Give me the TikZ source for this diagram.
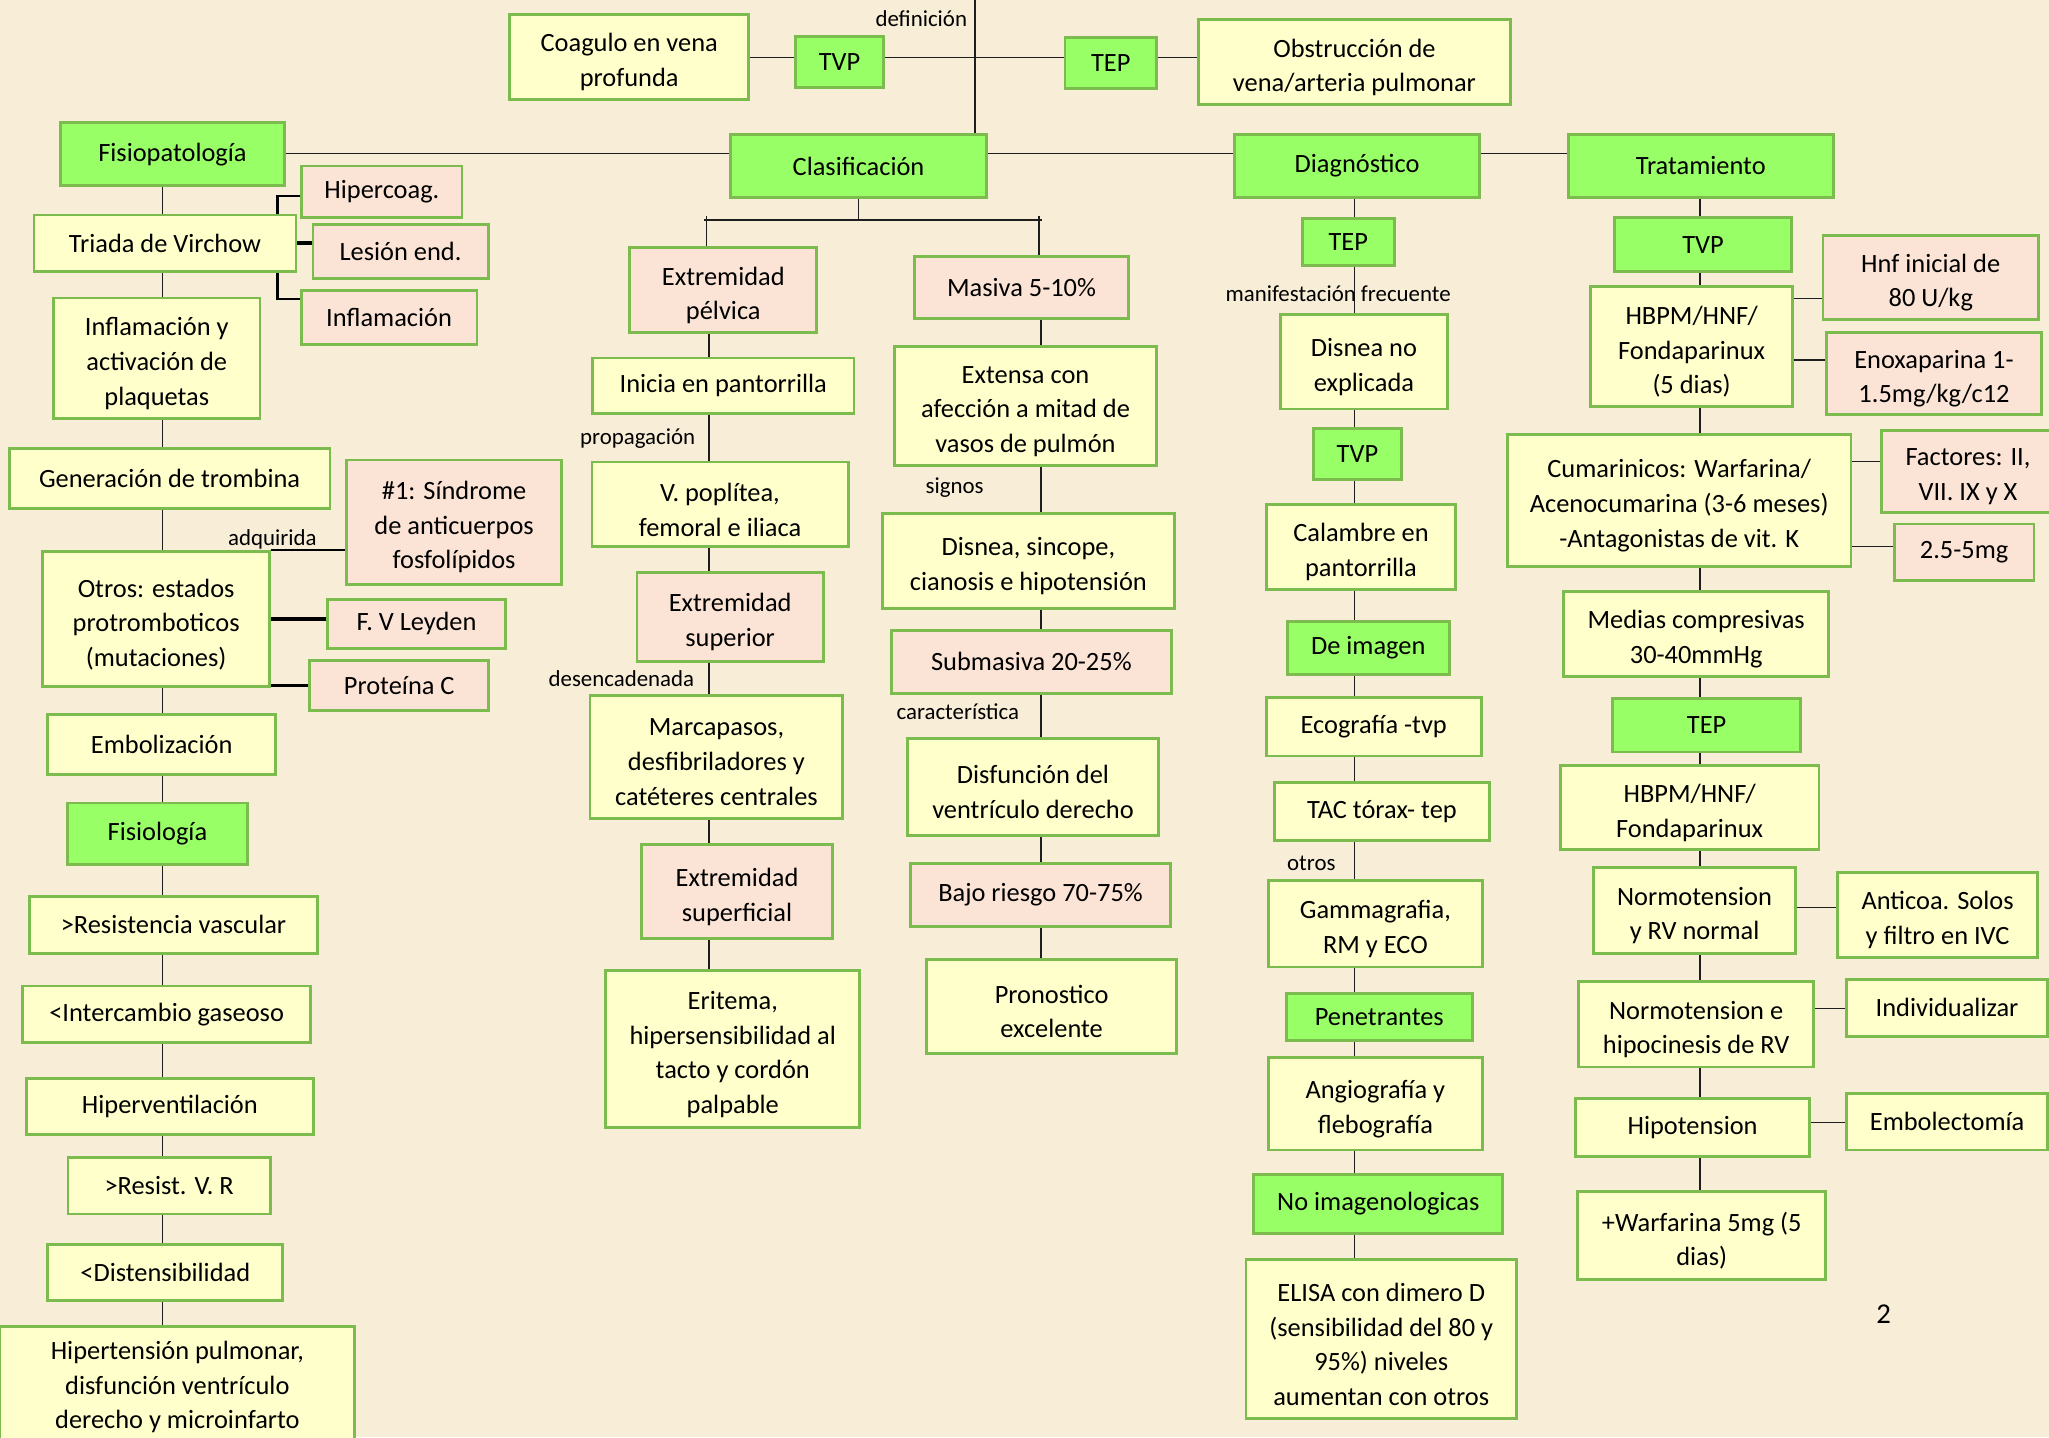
\documentclass[tikz,border=0pt]{standalone}
\usepackage{fontspec}
\setmainfont{Carlito}
\usetikzlibrary{calc}
\pgfdeclarelayer{bg}
\pgfsetlayers{bg,main}
\definecolor{gfill}{HTML}{99FF66}
\definecolor{yfill}{HTML}{FFFFCC}
\definecolor{pfill}{HTML}{FBE4D5}
\definecolor{bord}{HTML}{7CBB4E}
\definecolor{paper}{HTML}{F8EDD6}
\definecolor{ink}{HTML}{1E1E1E}
\tikzset{
 box/.style={draw=bord, line width=2.2pt, inner sep=0pt},
 gbox/.style={box, fill=gfill},
 ybox/.style={box, fill=yfill},
 pbox/.style={box, fill=pfill},
 btext/.style={inner sep=0pt, align=center, font=\fontsize{20.2}{26.5}\selectfont, text=black},
 conn/.style={draw=ink, line width=1pt},
 thk/.style={draw=black, line width=2.2pt},
 lbl/.style={font=\fontsize{17.5}{20}\selectfont, inner sep=0pt, text=black},
}
% single-line box
\newcommand\mybox[7]{%
 \pgfmathsetmacro\mycx{(#3+#5)/2}\pgfmathsetmacro\mycy{(#4+#6)/2}%
 \pgfmathsetmacro\myww{#5-#3}\pgfmathsetmacro\myhh{#6-#4}%
 \node[#2, minimum width=\myww pt, minimum height=\myhh pt] (#1) at (\mycx,\mycy) {};
 \node[btext] (#1t) at (\mycx,\mycy) {#7};}
% multi-line box (text sits a little lower)
\newcommand\myboxm[7]{%
 \pgfmathsetmacro\mycx{(#3+#5)/2}\pgfmathsetmacro\mycy{(#4+#6)/2}%
 \pgfmathsetmacro\myww{#5-#3}\pgfmathsetmacro\myhh{#6-#4}%
 \pgfmathsetmacro\myty{\mycy+4}%
 \node[#2, minimum width=\myww pt, minimum height=\myhh pt] (#1) at (\mycx,\mycy) {};
 \node[btext] (#1t) at (\mycx,\myty) {#7};}
\begin{document}
\begin{tikzpicture}[x=1pt,y=-1pt]
\useasboundingbox (0,0) rectangle (1568,1100);
\begin{pgfonlayer}{bg}
\fill[paper] (0,0) rectangle (1568,1100);
\end{pgfonlayer}
% top
\myboxm{Coag}{ybox}{390}{11}{573}{76}{Coagulo en vena\\profunda}
\mybox{TVPa}{gbox}{609}{28}{676}{67}{TVP}
\mybox{TEPa}{gbox}{815}{29}{885}{68}{TEP}
\myboxm{Obs}{ybox}{917}{15}{1156}{80}{Obstrucción de\\vena/arteria pulmonar}
\mybox{Fisio}{gbox}{46}{94}{218}{142}{Fisiopatología}
\mybox{Clas}{gbox}{559}{103}{755}{151}{Clasificación}
\mybox{Diag}{gbox}{945}{103}{1132}{151}{Diagnóstico}
\mybox{Trat}{gbox}{1200}{103}{1403}{151}{Tratamiento}
% left column
\mybox{Triada}{ybox}{26}{164.5}{226.5}{207.5}{Triada de Virchow}
\mybox{Hiper}{pbox}{231}{127}{353.5}{166.5}{Hipercoag.}
\mybox{Lesion}{pbox}{239.5}{172}{373.5}{213}{Lesión end.}
\mybox{InflB}{pbox}{230.5}{222.5}{365}{263.5}{Inflamación}
\myboxm{InflA}{ybox}{41}{228}{199}{320.5}{Inflamación y\\activación de\\plaquetas}
\mybox{Gen}{ybox}{7}{343}{252.5}{389}{Generación de trombina}
\myboxm{Sind}{pbox}{265}{352}{430}{447}{\#1: Síndrome\\de anticuerpos\\fosfolípidos}
\myboxm{Otros}{ybox}{32.5}{422}{206.5}{525.5}{Otros: estados\\protromboticos\\(mutaciones)}
\mybox{Leyden}{pbox}{250.5}{458.5}{387}{496}{F. V Leyden}
\mybox{Prot}{pbox}{237}{505.5}{374}{544}{Proteína C}
\mybox{Embo}{ybox}{36.5}{546.5}{211}{592.5}{Embolización}
\mybox{Fisiol}{gbox}{51.5}{614.5}{189.5}{661.5}{Fisiología}
\mybox{Resist}{ybox}{22.5}{686}{243}{729.5}{>Resistencia vascular}
\mybox{Interc}{ybox}{17.5}{754.5}{237.5}{798}{<Intercambio gaseoso}
\mybox{Hiperv}{ybox}{20}{825}{240}{868}{Hiperventilación}
\mybox{ResVR}{ybox}{52}{886}{207}{929}{>Resist. V. R}
\mybox{Disten}{ybox}{36.5}{952.5}{216.5}{995.5}{<Distensibilidad}
\mybox{Hipert}{ybox}{0}{1015}{271.5}{1108}{Hipertensión pulmonar,\\disfunción ventrículo\\derecho y microinfarto}
% clasificacion
\myboxm{EP}{pbox}{482}{189.5}{625}{254.5}{Extremidad\\pélvica}
\mybox{Inicia}{ybox}{453.5}{274}{653.5}{316.5}{Inicia en pantorrilla}
\myboxm{Vpop}{ybox}{453}{353.5}{649}{418.5}{V. poplítea,\\femoral e iliaca}
\myboxm{ExtSup}{pbox}{487.5}{438}{630}{506}{Extremidad\\superior}
\myboxm{Marca}{ybox}{451.5}{532}{645}{626.5}{Marcapasos,\\desfibriladores y\\catéteres centrales}
\myboxm{ExtSupf}{pbox}{491}{646.5}{637}{718}{Extremidad\\superficial}
\myboxm{Eritema}{ybox}{463.5}{743}{658}{863}{Eritema,\\hipersensibilidad al\\tacto y cordón\\palpable}
\mybox{Masiva}{pbox}{700}{196}{863.5}{244}{Masiva 5-10\%}
\myboxm{Extensa}{ybox}{684.5}{265}{885}{356.5}{Extensa con\\afección a mitad de\\vasos de pulmón}
\myboxm{DisneaS}{ybox}{675}{393}{899}{465.5}{Disnea, sincope,\\cianosis e hipotensión}
\mybox{Submas}{pbox}{682}{482.5}{896.5}{530.5}{Submasiva 20-25\%}
\myboxm{Disfun}{ybox}{694.5}{565}{886.5}{639.5}{Disfunción del\\ventrículo derecho}
\mybox{Bajo}{pbox}{697}{661}{895.5}{709}{Bajo riesgo 70-75\%}
\myboxm{Pron}{ybox}{709}{734}{900.5}{806}{Pronostico\\excelente}
% diagnostico
\mybox{TEPd}{gbox}{996.5}{167.5}{1067}{203.5}{TEP}
\myboxm{DisneaN}{ybox}{980}{241}{1107.5}{313}{Disnea no\\explicada}
\mybox{TVPd}{gbox}{1005}{328}{1072.5}{367}{TVP}
\myboxm{Calam}{ybox}{969}{386}{1114}{451}{Calambre en\\pantorrilla}
\mybox{DeImg}{gbox}{985}{475.5}{1109}{516}{De imagen}
\mybox{Eco}{ybox}{969}{534}{1133.5}{578.5}{Ecografía -tvp}
\mybox{TAC}{ybox}{975.5}{599}{1139.5}{643}{TAC tórax- tep}
\myboxm{Gamma}{ybox}{970.5}{674}{1134.5}{740}{Gammagrafia,\\RM y ECO}
\mybox{Penet}{gbox}{984.5}{760}{1126.5}{796}{Penetrantes}
\myboxm{Angio}{ybox}{970.5}{809.5}{1134.5}{880}{Angiografía y\\flebografía}
\mybox{NoImg}{gbox}{959.5}{898.5}{1150}{944}{No imagenologicas}
\myboxm{Elisa}{ybox}{953.5}{964}{1160.5}{1085.5}{ELISA con dimero D\\(sensibilidad del 80 y\\95\%) niveles\\aumentan con otros}
% tratamiento
\mybox{TVPt}{gbox}{1235.5}{166.5}{1371}{208}{TVP}
\myboxm{HBPM}{ybox}{1217}{219.5}{1372}{311}{HBPM/HNF/\\Fondaparinux\\(5 dias)}
\myboxm{Hnf}{pbox}{1395}{180}{1560}{244.5}{Hnf inicial de\\80 U/kg}
\myboxm{Enox}{pbox}{1397.5}{254.5}{1562.5}{317}{Enoxaparina 1-\\1.5mg/kg/c12}
\myboxm{Cumar}{ybox}{1153.5}{332.5}{1416.5}{433.5}{Cumarinicos: Warfarina/\\Acenocumarina (3-6 meses)\\-Antagonistas de vit. K}
\myboxm{Fact}{pbox}{1440}{329.5}{1572}{392}{Factores: II,\\VII. IX y X}
\mybox{Dosis}{pbox}{1449.5}{401}{1556.5}{444}{2.5-5mg}
\myboxm{Medias}{ybox}{1196.5}{452.5}{1399.5}{518}{Medias compresivas\\30-40mmHg}
\mybox{TEPt}{gbox}{1234}{534.5}{1378}{575.5}{TEP}
\myboxm{HBPMb}{ybox}{1194}{586}{1392}{650}{HBPM/HNF/\\Fondaparinux}
\myboxm{NormRV}{ybox}{1219.5}{664}{1374}{729.5}{Normotension\\y RV normal}
\myboxm{Anticoa}{ybox}{1406}{667.5}{1559.5}{732.5}{Anticoa. Solos\\y filtro en IVC}
\myboxm{NormHip}{ybox}{1208}{751}{1388}{816.5}{Normotension e\\hipocinesis de RV}
\mybox{Indiv}{ybox}{1413}{749.5}{1567}{793}{Individualizar}
\mybox{Hipot}{ybox}{1205.5}{840.5}{1385}{885}{Hipotension}
\mybox{Embol}{ybox}{1413}{837}{1567}{880}{Embolectomía}
\myboxm{Warf}{ybox}{1207.5}{912}{1397}{979}{+Warfarina 5mg (5\\dias)}
% labels
\node[lbl] (Ldef) at (705,14) {definición};
\node[lbl] (Lprop) at (488,336) {propagación};
\node[lbl] (Ladq) at (208.5,413) {adquirida};
\node[lbl] (Ldes) at (475.5,519) {desencadenada};
\node[lbl] (Lsig) at (730.5,373) {signos};
\node[lbl] (Lcar) at (733,544.5) {característica};
\node[lbl] (Lman) at (1024,224.5) {manifestación frecuente};
\node[lbl] (Lotr) at (1003.5,660.5) {otros};
\node[font=\fontsize{22}{26}\selectfont, inner sep=0pt] (Pg) at (1441.5,1006) {2};
% connectors
\begin{pgfonlayer}{bg}
\coordinate (ytop) at (0,44);
\draw[conn] (Coag.east |- ytop) -- (TVPa.west |- ytop);
\draw[conn] (TVPa.east |- ytop) -- (TEPa.west |- ytop);
\draw[conn] (TEPa.east |- ytop) -- (Obs.west |- ytop);
\coordinate (vtop) at (746,0);
\draw[conn] (vtop) -- (vtop |- Clas.north);
\coordinate (yr) at (0,117.5);
\draw[conn] (Fisio.east |- yr) -- (Clas.west |- yr);
\draw[conn] (Clas.east |- yr) -- (Diag.west |- yr);
\draw[conn] (Diag.east |- yr) -- (Trat.west |- yr);
% left chain
\coordinate (xL) at (124.5,0);
\foreach \a/\b in {Fisio/Triada,Triada/InflA,InflA/Gen,Gen/Otros,Otros/Embo,Embo/Fisiol,Fisiol/Resist,Resist/Interc,Interc/Hiperv,Hiperv/ResVR,ResVR/Disten,Disten/Hipert}
  \draw[conn] (\a.south -| xL) -- (\b.north -| xL);
\coordinate (bk1) at (212.4,150);
\coordinate (bk2) at (212.4,228.8);
\draw[thk] (Hiper.west |- bk1) -- (bk1) -- (bk2) -- (InflB.west |- bk2);
\draw[thk, line width=3.5pt] (Triada.east) -- (Triada.east -| Lesion.west);
\draw[thk] (Otros.north east) -- (Otros.north east -| Sind.west);
\draw[thk, line width=3.5pt] (Otros.east) -- (Otros.east -| Leyden.west);
\draw[thk] (Prot.west -| Otros.east) -- (Prot.west);
% clasificacion tree
\coordinate (hL) at (538.5,168.4);
\coordinate (hR) at (797,168.4);
\draw[conn] (Clas.south) -- (Clas.south |- hL);
\draw[conn] (hL) -- (hR);
\coordinate (tL) at (540.5,165);
\coordinate (tR) at (795,165);
\draw[conn] (tL) -- (tL |- EP.north);
\draw[conn] (tR) -- (tR |- Masiva.north);
\coordinate (xM) at (542.5,0);
\foreach \a/\b in {EP/Inicia,Inicia/Vpop,Vpop/ExtSup,ExtSup/Marca,Marca/ExtSupf,ExtSupf/Eritema}
  \draw[conn] (\a.south -| xM) -- (\b.north -| xM);
\coordinate (xR) at (796.5,0);
\foreach \a/\b in {Masiva/Extensa,Extensa/DisneaS,DisneaS/Submas,Submas/Disfun,Disfun/Bajo,Bajo/Pron}
  \draw[conn] (\a.south -| xR) -- (\b.north -| xR);
% diagnostico chain
\coordinate (xD) at (1036.5,0);
\foreach \a/\b in {Diag/TEPd,TEPd/DisneaN,DisneaN/TVPd,TVPd/Calam,Calam/DeImg,DeImg/Eco,Eco/TAC,TAC/Gamma,Gamma/Penet,Penet/Angio,Angio/NoImg,NoImg/Elisa}
  \draw[conn] (\a.south -| xD) -- (\b.north -| xD);
% tratamiento chain
\coordinate (xT) at (1301,0);
\foreach \a/\b in {Trat/TVPt,TVPt/HBPM,HBPM/Cumar,Cumar/Medias,Medias/TEPt,TEPt/HBPMb,HBPMb/NormRV,NormRV/NormHip,NormHip/Hipot,Hipot/Warf}
  \draw[conn] (\a.south -| xT) -- (\b.north -| xT);
\coordinate (s1) at (0,228.6);
\coordinate (s2) at (0,275.5);
\coordinate (s3) at (0,353.4);
\coordinate (s4) at (0,418);
\coordinate (s5) at (0,694.4);
\coordinate (s6) at (0,772);
\coordinate (s7) at (0,859);
\draw[conn] (HBPM.east |- s1) -- (Hnf.west |- s1);
\draw[conn] (HBPM.east |- s2) -- (Enox.west |- s2);
\draw[conn] (Cumar.east |- s3) -- (Fact.west |- s3);
\draw[conn] (Cumar.east |- s4) -- (Dosis.west |- s4);
\draw[conn] (NormRV.east |- s5) -- (Anticoa.west |- s5);
\draw[conn] (NormHip.east |- s6) -- (Indiv.west |- s6);
\draw[conn] (Hipot.east |- s7) -- (Embol.west |- s7);
\end{pgfonlayer}
\end{tikzpicture}
\end{document}
